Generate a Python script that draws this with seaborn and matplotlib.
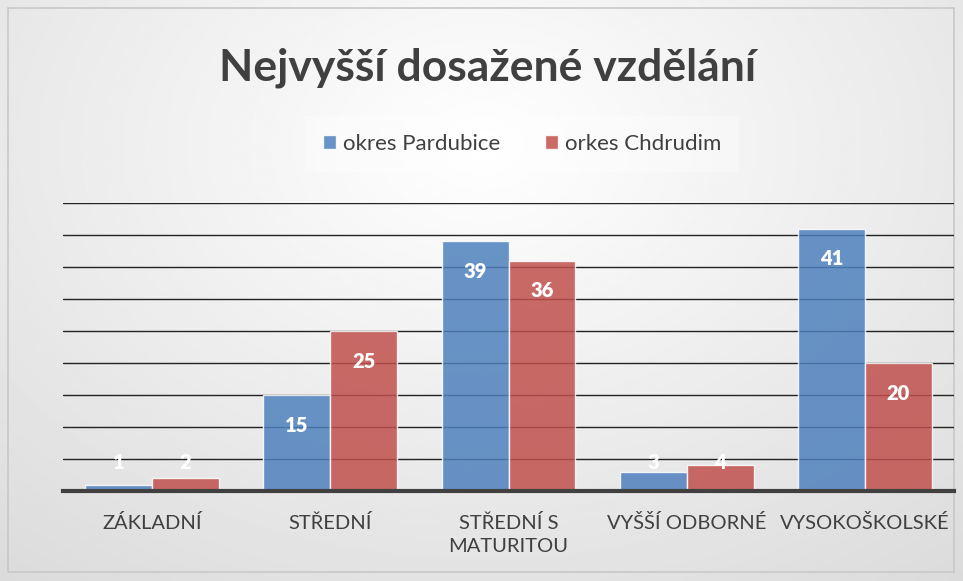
import numpy as np
import pandas as pd
import matplotlib
matplotlib.use('Agg')
import matplotlib.pyplot as plt
import seaborn as sns
from matplotlib.patches import Rectangle

# data
categories = ['ZÁKLADNÍ', 'STŘEDNÍ', 'STŘEDNÍ S\nMATURITOU', 'VYŠŠÍ ODBORNÉ', 'VYSOKOŠKOLSKÉ']
series = ['okres Pardubice', 'orkes Chdrudim']
pardubice = [1, 15, 39, 3, 41]
chrudim = [2, 25, 36, 4, 20]
title = 'Nejvyšší dosažené vzdělání'

df = pd.DataFrame({
    'kategorie': categories * 2,
    'okres': [series[0]] * 5 + [series[1]] * 5,
    'hodnota': pardubice + chrudim,
})

sns.set_style('white')
plt.rcParams['font.family'] = ['Lato', 'DejaVu Sans']

fig = plt.figure(figsize=(9.63, 5.81), dpi=100)

# background with soft radial gradient
bg = fig.add_axes([0, 0, 1, 1], zorder=-5)
yy, xx = np.mgrid[0:1:300j, 0:1:500j]
r = np.sqrt(((xx - 0.5) / 0.75) ** 2 + ((yy - 0.25) / 0.9) ** 2)
shade = 1.0 - 0.16 * np.clip(r, 0, 1.2) / 1.2
bg.imshow(shade, cmap='gray', vmin=0, vmax=1, extent=[0, 1, 1, 0], aspect='auto')
bg.set_xlim(0, 1)
bg.set_ylim(1, 0)
bg.axis('off')
bg.add_patch(Rectangle((8 / 963, 8 / 581), 946 / 963, 564 / 581, fill=False,
                       edgecolor='#c8c8c8', lw=1.2))

ax = fig.add_axes([63 / 963, 1 - 491 / 581, 891 / 963, 288 / 581])
ax.patch.set_alpha(0)

sns.barplot(data=df, x='kategorie', y='hodnota', hue='okres',
            palette=['#4f81bd', '#c0504d'], saturation=1, width=0.75, ax=ax,
            edgecolor=(1, 1, 1, 0.5), linewidth=1, zorder=3)
for p in ax.patches:
    p.set_alpha(0.85)

ax.set_ylim(0, 45)
ax.set_xlim(-0.5, 4.5)
ax.set_yticks(np.arange(5, 46, 5))
ax.yaxis.grid(True, color='#222222', lw=1.0, zorder=1)
ax.set_axisbelow(True)
ax.tick_params(axis='y', left=False, labelleft=False)
ax.tick_params(axis='x', bottom=False, pad=13, labelsize=14.5, labelcolor='#404040')
for s in ['top', 'right', 'left']:
    ax.spines[s].set_visible(False)
ax.spines['bottom'].set_color('#404040')
ax.spines['bottom'].set_linewidth(3)
ax.spines['bottom'].set_zorder(5)
ax.set_xlabel('')
ax.set_ylabel('')
for t in ax.get_xticklabels():
    t.set_linespacing(1.45)

# value labels (inside end, kept above small bars)
for cont in ax.containers:
    for bar, v in zip(cont, cont.datavalues):
        xc = bar.get_x() + bar.get_width() / 2
        yl = max(v - 4.7, 4.5)
        ax.text(xc, yl, f'{int(v)}', ha='center', va='center', color='white',
                fontsize=14.5, fontweight='heavy', zorder=6)

leg = ax.legend(loc='center', bbox_to_anchor=(522 / 963, 1 - 144 / 581),
                bbox_transform=fig.transFigure, ncol=2, frameon=True,
                fontsize=16, handlelength=0.6, handleheight=0.6,
                handletextpad=0.3, columnspacing=2.0, borderpad=0.8)
leg.get_frame().set_facecolor('white')
leg.get_frame().set_alpha(0.35)
leg.get_frame().set_edgecolor('none')
leg.get_frame().set_boxstyle('square', pad=0)
for t in leg.get_texts():
    t.set_color('#404040')
leg.set_title(None)

fig.text(488 / 963, 1 - 68 / 581, title, ha='center', va='center',
         fontsize=32, fontweight='bold', color='#404040')

fig.savefig('out.png', dpi=100)
